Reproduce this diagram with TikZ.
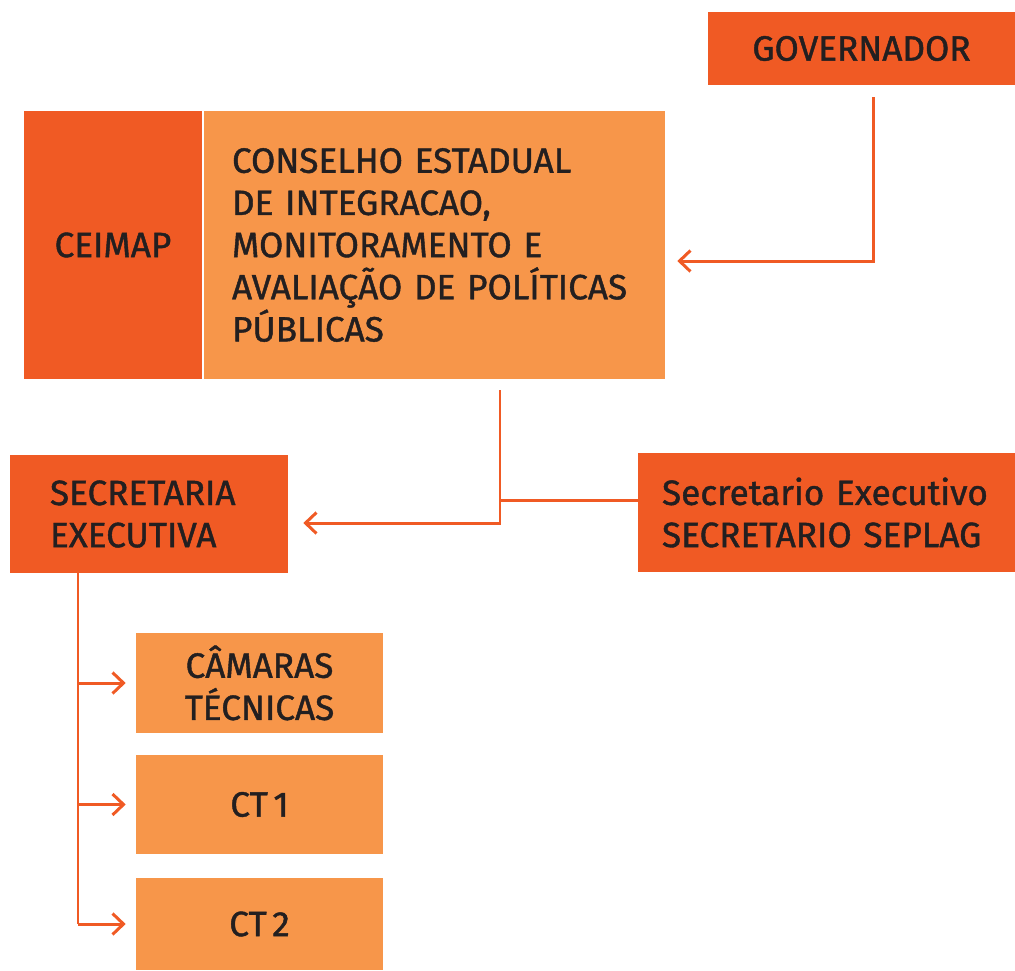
\documentclass[tikz,border=0pt]{standalone}
\usepackage{fontspec}
\setmainfont{Fira Sans}[WordSpace=0.6,FakeBold=1.2]
\usetikzlibrary{arrows.meta}
\definecolor{laranja}{HTML}{F05A24}
\definecolor{laranjac}{HTML}{F7964A}
\definecolor{texto}{HTML}{231F20}
\begin{document}
\begin{tikzpicture}[x=0.02cm,y=-0.02cm,
	cx/.style={fill=laranja,text=texto,inner sep=0pt,font=\fontsize{20}{24}\selectfont},
	cxc/.style={cx,fill=laranjac},
	lig/.style={draw=laranja,line width=1.7pt},
	seta/.style={lig,-{Straight Barb[length=0.22cm,width=0.42cm]}}]
		\useasboundingbox (0,0) rectangle (1015,971);
		\node[cx,minimum width=6.14cm,minimum height=1.46cm] (gov) at (861.5,48.5) {GOVERNADOR};
		\node[cx,minimum width=3.56cm,minimum height=5.36cm] (ceimap) at (113,245) {CEIMAP};
		\node[cxc,minimum width=9.22cm,minimum height=5.36cm,text width=8.1cm,align=left] (cons) at (434.5,245) {CONSELHO ESTADUAL\\DE INTEGRACAO,\\MONITORAMENTO E\\AVALIAÇÃO DE POLÍTICAS\\PÚBLICAS};
		\node[cx,minimum width=5.56cm,minimum height=2.36cm,text width=3.96cm,align=left] (sec) at (149,514) {SECRETARIA\\EXECUTIVA};
		\node[cx,minimum width=7.54cm,minimum height=2.38cm,text width=6.58cm,align=left] (seplag) at (826.5,512.5) {Secretario Executivo\\SECRETARIO SEPLAG};
		\node[cxc,minimum width=4.94cm,minimum height=2cm,align=center] (cam) at (259.5,683) {CÂMARAS\\TÉCNICAS};
		\node[cxc,minimum width=4.94cm,minimum height=1.98cm] (ct1) at (259.5,804.5) {CT 1};
		\node[cxc,minimum width=4.94cm,minimum height=1.84cm] (ct2) at (259.5,924) {CT 2};

		% ligacoes
		\coordinate (g1) at ([shift={(11.5,12)}]gov.south);
		\coordinate (c1) at ([shift={(65.5,11)}]cons.south);
		\coordinate (p1) at ([yshift=0.25cm]seplag.west);
		\coordinate (s1) at ([shift={(-71,0)}]sec.south);
		\draw[seta] (g1) |- ([shift={(12,16)}]cons.east);
		\draw[seta] (c1) |- ([shift={(15,9)}]sec.east);
		\draw[lig] (p1) -- (c1 |- p1);
		\draw[lig] (s1) -- (s1 |- ct2.west);
		\draw[seta] (s1 |- cam.west) -- ([xshift=-0.2cm]cam.west);
		\draw[seta] (s1 |- ct1.west) -- ([xshift=-0.2cm]ct1.west);
		\draw[seta] (s1 |- ct2.west) -- ([xshift=-0.2cm]ct2.west);
	\end{tikzpicture}
\end{document}
